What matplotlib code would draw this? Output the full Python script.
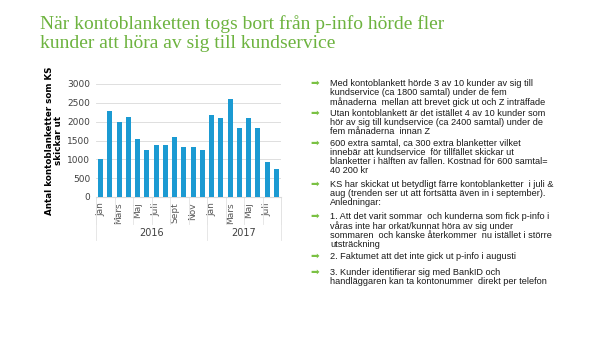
import matplotlib
matplotlib.use("Agg")
import matplotlib.pyplot as plt
import matplotlib.transforms as mtransforms

# data
months = ["Jan", "Feb", "Mars", "Apr", "Maj", "Juni", "Juli", "Aug", "Sept", "Okt", "Nov", "Dec",
          "Jan", "Feb", "Mars", "Apr", "Maj", "Juni", "Juli", "Aug"]
values = [1020, 2280, 1980, 2120, 1550, 1250, 1370, 1390, 1580, 1330, 1340, 1240,
          2170, 2090, 2600, 1840, 2110, 1830, 940, 750]
years = ["2016", "2017"]
months_per_year = [12, 8]

title = "När kontoblanketten togs bort från p-info hörde fler\nkunder att höra av sig till kundservice"
ylabel = "Antal kontoblanketter som KS\nskickar ut"
bullets = [
    "Med kontoblankett hörde 3 av 10 kunder av sig till\nkundservice (ca 1800 samtal) under de fem\nmånaderna  mellan att brevet gick ut och Z inträffade",
    "Utan kontoblankett är det istället 4 av 10 kunder som\nhör av sig till kundservice (ca 2400 samtal) under de\nfem månaderna  innan Z",
    "600 extra samtal, ca 300 extra blanketter vilket\ninnebär att kundservice  för tillfället skickar ut\nblanketter i hälften av fallen. Kostnad för 600 samtal=\n40 200 kr",
    "KS har skickat ut betydligt färre kontoblanketter  i juli &\naug (trenden ser ut att fortsätta även in i september).\nAnledningar:",
    "1. Att det varit sommar  och kunderna som fick p-info i\nvåras inte har orkat/kunnat höra av sig under\nsommaren  och kanske återkommer  nu istället i större\nutsträckning",
    "2. Faktumet att det inte gick ut p-info i augusti",
    "3. Kunder identifierar sig med BankID och\nhandläggaren kan ta kontonummer  direkt per telefon",
]
bullet_y = [79, 109, 139, 180, 212, 252, 268]

green = "#6DB33F"
blue = "#1B9AD2"

fig = plt.figure(figsize=(6, 3.38), dpi=100)
W, H = 600, 338

fig.text(40 / W, 1 - 15 / H, title, ha="left", va="top", color=green,
         family="Liberation Serif", fontsize=14, linespacing=1.15)

#%% bar chart
ax = fig.add_axes([96 / W, 1 - 197 / H, 185 / W, 113 / H])
x = list(range(len(values)))
ax.bar(x, values, width=0.55, color=blue, zorder=3)
ax.set_xlim(-0.5, len(values) - 0.5)
ax.set_ylim(0, 3000)
ax.set_yticks(range(0, 3001, 500))
ax.grid(axis="y", color="#D9D9D9", linewidth=0.6, zorder=0)
for s in ["top", "right", "left"]:
    ax.spines[s].set_visible(False)
ax.spines["bottom"].set_color("#D9D9D9")
ax.tick_params(axis="y", length=0, labelsize=6.5, labelcolor="#404040", pad=4)
ax.set_xticks(x[::2])
ax.set_xticklabels(months[::2], rotation=90, fontsize=6.5, color="#595959")
ax.tick_params(axis="x", length=0, pad=4)
ax.set_ylabel(ylabel, fontsize=6.3, fontweight="bold", labelpad=3, linespacing=1.0)

trans = mtransforms.blended_transform_factory(ax.transData, ax.transAxes)
# small separators between label pairs
for i in range(0, len(values) + 1, 2):
    ax.plot([i - 0.5, i - 0.5], [0, -0.24], transform=trans, color="#E3E3E3",
            linewidth=0.6, clip_on=False)
# year separators and labels
start = 0
for yr, n in zip(years, months_per_year):
    ax.plot([start - 0.5, start - 0.5], [0, -0.38], transform=trans, color="#E3E3E3",
            linewidth=0.6, clip_on=False)
    ax.text(start + n / 2 - 0.5, -0.32, yr, transform=trans, ha="center", va="center",
            fontsize=7, color="#404040")
    start += n
ax.plot([start - 0.5, start - 0.5], [0, -0.38], transform=trans, color="#E3E3E3",
        linewidth=0.6, clip_on=False)

#%% bullet text
for txt, yy in zip(bullets, bullet_y):
    fig.text(315 / W, 1 - (yy + 4) / H, "➡", ha="center", va="center", color="#7AC143",
             fontsize=7.5, family="DejaVu Sans")
    fig.text(330 / W, 1 - yy / H, txt, ha="left", va="top", color="#1A1A1A",
             fontsize=6.6, family="Liberation Sans", linespacing=1.0)

fig.savefig("out.png", dpi=100)
